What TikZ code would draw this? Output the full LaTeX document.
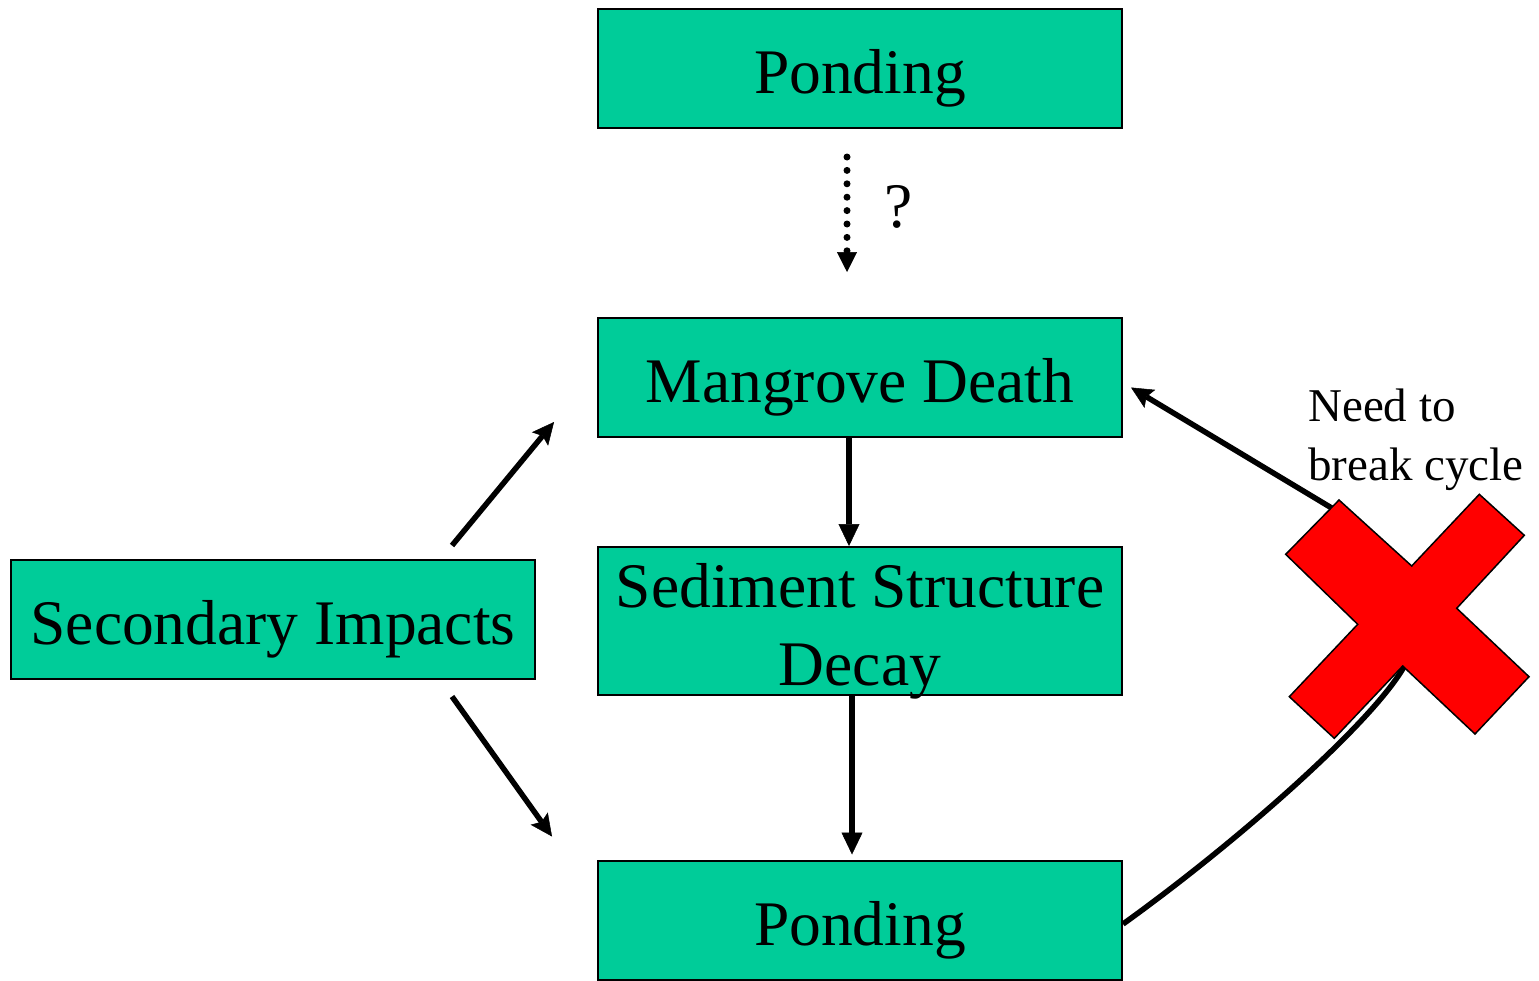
\documentclass[tikz,border=0pt]{standalone}
\usepackage{fontspec}
\setmainfont{Liberation Serif}
\usetikzlibrary{arrows.meta,calc}
\definecolor{boxgreen}{RGB}{0,204,153}
\definecolor{xred}{RGB}{255,0,0}
\begin{document}
\begin{tikzpicture}[x=1pt,y=-1pt,
  box/.style={draw=black,line width=2pt,fill=boxgreen,minimum width=524pt,minimum height=119pt,
    inner sep=0pt,font=\fontsize{63.5}{78}\selectfont,align=center,text height=50pt,text depth=0pt},
  varr/.style={line width=5.5pt,-{Triangle[length=22pt,width=21pt,line width=0.5pt]}},
  darr/.style={line width=5.5pt,-{Stealth[length=22pt,width=21pt,inset=4pt,line width=0.5pt]}},
  dotarr/.style={line width=7pt,dash pattern=on 0pt off 13.4pt,line cap=round,
    -{Triangle[length=20pt,width=20pt,line width=0.5pt]}},
  xmark/.style={draw=black,line width=1.5pt,fill=xred,line join=miter},
  lbl/.style={inner sep=0pt}]
\useasboundingbox (0,0) rectangle (1539,980);

\node[box] (p1) at (860,68.5) {Ponding};
\node[box] (md) at (860,377.5) {Mangrove Death};
\node[box,minimum height=148pt,text height=128pt,text depth=0pt] (sd) at (860,621) {Sediment Structure\\Decay};
\node[box] (p2) at (860,920) {Ponding};
\node[box] (si) at (273,619) {Secondary Impacts};

% dotted arrow with question mark
\coordinate (d1) at ($(p1.south)+(-13,28)$);
\coordinate (d2) at ($(md.north)+(-13,-45)$);
\draw[dotarr] (d1) -- (d2);
\node[lbl,anchor=base,font=\fontsize{63.5}{70}\selectfont] (q) at (899,227) {?};

% vertical arrows
\draw[varr] ([xshift=-11pt]md.south) -- ([xshift=-11pt]sd.north);
\draw[varr] ([xshift=-8pt]sd.south) -- ([xshift=-8pt,yshift=5pt]p2.north);

% diagonal arrows from Secondary Impacts
\draw[darr] ($(si.north east)+(-84,-13)$) -- ($(md.south west)+(-43,-16)$);
\draw[darr] ($(si.south east)+(-84,17)$) -- ($(p2.north west)+(-45,-23)$);

% cycle connector
\coordinate (c1) at (1405,665);
\coordinate (c2) at (1330,507);
\draw[darr] ([yshift=-4pt]p2.east) .. controls (1240,840) and (1375,720) .. (c1)
  .. controls (1425,600) and (1385,540) .. (c2) -- ($(md.east)+(8,10)$);

% red X
\draw[xmark] (1285.7,554.3) -- (1339,500) -- (1411.7,566) -- (1479.3,494.3) -- (1524.3,535.3)
  -- (1456.7,608.3) -- (1529,676.7) -- (1475,734) -- (1402.7,666) -- (1334.3,738.3)
  -- (1289.3,696.7) -- (1357.7,624.3) -- cycle;

\node[lbl,anchor=north west,align=left,font=\fontsize{47}{59}\selectfont,text height=93pt,text depth=0pt] (nb) at (1308,387) {Need to\\break cycle};
\end{tikzpicture}
\end{document}
